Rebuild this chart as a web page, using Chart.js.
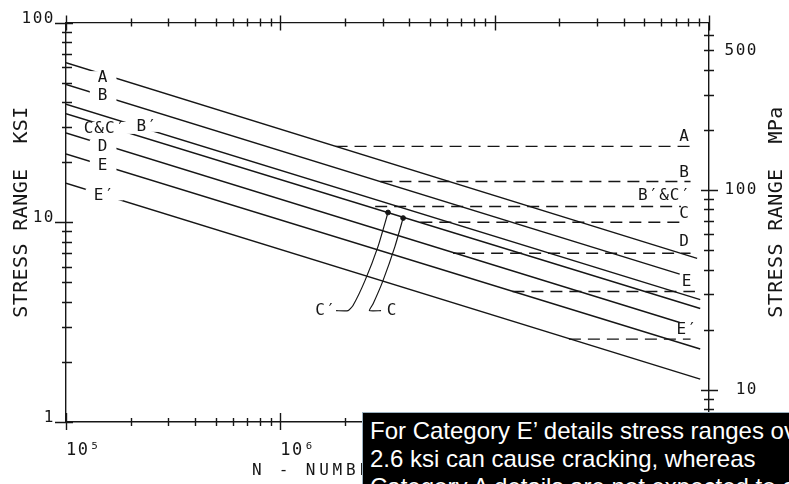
<!DOCTYPE html>
<html><head><meta charset="utf-8">
<script src="https://cdn.jsdelivr.net/npm/chart.js@4.4.1/dist/chart.umd.min.js"></script>
<style>
html,body{margin:0;padding:0;background:#fff;}
#wrap{position:relative;width:789px;height:484px;overflow:hidden;background:#fff;}
#c{position:absolute;left:0;top:0;}
#note{position:absolute;left:362px;top:412px;width:480px;height:110px;background:#000;border:1px solid #9db3c2;box-sizing:border-box;color:#fff;font-family:"Liberation Sans",Arial,sans-serif;font-size:24px;line-height:28px;padding:4px 0 0 7px;white-space:nowrap;}
</style></head>
<body><div id="wrap"><canvas id="c" width="789" height="484"></canvas>
<div id="note">For Category E’ details stress ranges over<br>2.6 ksi can cause cracking, whereas<br>Category A details are not expected to crack</div></div>
<script>
const INK = '#161616';
const MONO = '"DejaVu Sans Mono", "Liberation Mono", monospace';
const MPA_PER_KSI = 6.895;

// S-N lines (N cycles, stress range ksi)
const categories  = ['A','B','B′','C & C′','D','E','E′'];
const startCycles = [1e5, 1e5, 1e5, 1e5, 1e5, 1e5, 1e5];
const startStress = [63, 49, 39, 35, 28, 22, 15.7];
const endCycles   = [8.8e7, 7.3e7, 9.1e7, 9.1e7, 7.3e7, 9.1e7, 9.1e7];
const endStress   = [6.6, 5.5, 4.1, 3.7, 3.15, 2.32, 1.64];

// constant-amplitude thresholds (dashed)
const thresholdNames  = ['A','B','B′ & C′','C','D','E','E′'];
const thresholdStress = [24, 16, 12, 10, 7, 4.5, 2.6];
const thresholdStart  = [1.81e6, 2.93e6, 2.77e6, 4.5e6, 6.4e6, 1.21e7, 2.22e7];
const thresholdEnd    = [8.2e7, 8.2e7, 7.4e7, 7.4e7, 8.2e7, 8.6e7, 8.2e7];

// curve labels
const leftLabelText    = ['A','B','C&C′','B′','D','E','E′'];
const leftLabelCycles  = [1.49e5, 1.49e5, 1.52e5, 2.39e5, 1.49e5, 1.49e5, 1.51e5];
const leftLabelStress  = [53.3, 43.3, 29.7, 30.4, 24.2, 19.4, 13.8];
const rightLabelText   = ['A','B','B′&C′','C','D','E','E′'];
const rightLabelCycles = [7.7e7, 7.7e7, 6.2e7, 7.7e7, 7.7e7, 7.9e7, 7.9e7];
const rightLabelStress = [27.1, 17.9, 13.8, 11.1, 8.04, 5.09, 2.94];

// C / C' leader lines
const leaderCPrimeCycles = [3.18e6, 2.86e6, 2.48e6, 2.18e6, 2.07e6, 1.82e6];
const leaderCPrimeStress = [11.2, 7.6, 5.09, 3.82, 3.61, 3.61];
const leaderCCycles      = [3.74e6, 3.43e6, 3.01e6, 2.71e6, 2.60e6, 2.95e6];
const leaderCStress      = [10.5, 7.6, 5.09, 3.91, 3.61, 3.61];
const leaderLabelText    = ['C′','C'];
const leaderLabelCycles  = [1.63e6, 3.32e6];
const leaderLabelStress  = [3.65, 3.65];

// axes ticks
const xMajorTicks   = [1e5, 1e6, 1e7, 1e8];
const xMajorLabels  = ['10⁵','10⁶','10⁷','10⁸'];
const xMinorTicks   = [2e5,3e5,4e5,5e5,6e5,7e5,8e5,9e5,2e6,3e6,4e6,5e6,6e6,7e6,8e6,9e6,2e7,3e7,4e7,5e7,6e7,7e7,8e7,9e7];
const ksiMajorTicks  = [1, 10, 100];
const ksiMajorLabels = ['1','10','100'];
const ksiMinorTicks  = [2,3,4,5,6,7,8,9,20,30,40,50,60,70,80,90];
const mpaMajorTicks  = [10, 100];
const mpaLabelTicks  = [10, 100, 500];
const mpaLabels      = ['10','100','500'];
const mpaMinorTicks  = [7,8,9,20,30,40,50,60,70,80,90,200,300,400,500,600];

const xTitle  = 'N - NUMBER OF CYCLES';
const yTitle  = 'STRESS RANGE  KSI';
const y2Title = 'STRESS RANGE  MPa';

function lookup(vals, labels, v){
  const i = vals.findIndex(m => Math.abs(m - v) / m < 1e-6);
  return i >= 0 ? labels[i] : '';
}

const datasets = [];
categories.forEach((c, i) => datasets.push({
  label: 'Category ' + c,
  data: [{x: startCycles[i], y: startStress[i]}, {x: endCycles[i], y: endStress[i]}],
  borderColor: INK, borderWidth: 1.4, pointRadius: 0, showLine: true, fill: false
}));
thresholdNames.forEach((c, i) => datasets.push({
  label: 'Threshold ' + c,
  data: [{x: thresholdStart[i], y: thresholdStress[i]}, {x: thresholdEnd[i], y: thresholdStress[i]}],
  borderColor: INK, borderWidth: 1.4, borderDash: [12, 7], pointRadius: 0, showLine: true, fill: false
}));
datasets.push({
  label: 'leader C′',
  data: leaderCPrimeCycles.map((v, i) => ({x: v, y: leaderCPrimeStress[i]})),
  borderColor: INK, borderWidth: 1.2, pointRadius: 0, showLine: true, tension: 0.15, fill: false
});
datasets.push({
  label: 'leader C',
  data: leaderCCycles.map((v, i) => ({x: v, y: leaderCStress[i]})),
  borderColor: INK, borderWidth: 1.2, pointRadius: 0, showLine: true, tension: 0.15, fill: false
});
datasets.push({
  label: 'C points',
  data: [{x: leaderCPrimeCycles[0], y: leaderCPrimeStress[0]}, {x: leaderCCycles[0], y: leaderCStress[0]}],
  pointRadius: 2.4, pointBackgroundColor: INK, pointBorderColor: INK, showLine: false
});

const decor = {
  id: 'decor',
  beforeDraw(chart){ chart.ctx.letterSpacing = '1.5px'; },
  afterDatasetsDraw(chart){
    const ctx = chart.ctx, sx = chart.scales.x, sy = chart.scales.y;
    ctx.save();
    ctx.font = '16px ' + MONO;
    ctx.letterSpacing = '1px';
    ctx.textAlign = 'center';
    ctx.textBaseline = 'middle';
    leftLabelText.forEach((t, i) => {
      const px = sx.getPixelForValue(leftLabelCycles[i]);
      const py = sy.getPixelForValue(leftLabelStress[i]);
      const w = ctx.measureText(t).width;
      ctx.fillStyle = '#fff';
      ctx.fillRect(px - w/2 - 8, py - 6, w + 16, 12);
      ctx.fillStyle = INK;
      ctx.fillText(t, px, py + 1);
    });
    rightLabelText.forEach((t, i) => {
      ctx.fillStyle = INK;
      ctx.fillText(t, sx.getPixelForValue(rightLabelCycles[i]), sy.getPixelForValue(rightLabelStress[i]) + 1);
    });
    leaderLabelText.forEach((t, i) => {
      ctx.fillStyle = INK;
      ctx.fillText(t, sx.getPixelForValue(leaderLabelCycles[i]), sy.getPixelForValue(leaderLabelStress[i]) + 1);
    });
    ctx.restore();
  },
  afterDraw(chart){
    const ctx = chart.ctx, sx = chart.scales.x, sy = chart.scales.y, sy2 = chart.scales.y2;
    const a = chart.chartArea;
    ctx.save();
    ctx.letterSpacing = '0px';
    ctx.strokeStyle = INK;
    ctx.lineWidth = 1.4;
    ctx.beginPath();
    ctx.moveTo(a.left, a.top); ctx.lineTo(a.right, a.top);
    xMinorTicks.forEach(v => {
      const p = Math.round(sx.getPixelForValue(v)) + 0.5;
      ctx.moveTo(p, a.bottom - 4); ctx.lineTo(p, a.bottom + 4);
      ctx.moveTo(p, a.top - 4); ctx.lineTo(p, a.top + 4);
    });
    xMajorTicks.forEach(v => {
      const p = Math.round(sx.getPixelForValue(v)) + 0.5;
      ctx.moveTo(p, a.bottom - 9); ctx.lineTo(p, a.bottom + 8);
      ctx.moveTo(p, a.top - 7); ctx.lineTo(p, a.top + 8);
    });
    ksiMinorTicks.forEach(v => {
      const p = Math.round(sy.getPixelForValue(v)) + 0.5;
      ctx.moveTo(a.left - 4, p); ctx.lineTo(a.left + 6, p);
    });
    ksiMajorTicks.forEach(v => {
      const p = Math.round(sy.getPixelForValue(v)) + 0.5;
      ctx.moveTo(a.left - 11, p); ctx.lineTo(a.left + 7, p);
    });
    mpaMinorTicks.forEach(v => {
      const p = Math.round(sy2.getPixelForValue(v)) + 0.5;
      ctx.moveTo(a.right - 5, p); ctx.lineTo(a.right + 5, p);
    });
    mpaMajorTicks.forEach(v => {
      const p = Math.round(sy2.getPixelForValue(v)) + 0.5;
      ctx.moveTo(a.right - 8, p); ctx.lineTo(a.right + 9, p);
    });
    ctx.stroke();

    ctx.fillStyle = INK;
    ctx.font = '16px ' + MONO;
    ctx.letterSpacing = '3.8px';
    ctx.textAlign = 'left';
    ctx.textBaseline = 'alphabetic';
    ctx.fillText(xTitle, 252, 475);
    ctx.font = '20px ' + MONO;
    ctx.letterSpacing = '0.4px';
    ctx.textAlign = 'center';
    ctx.textBaseline = 'middle';
    ctx.save();
    ctx.translate(22, 212);
    ctx.rotate(-Math.PI / 2);
    ctx.fillText(yTitle, 0, 0);
    ctx.restore();
    ctx.save();
    ctx.translate(777, 212);
    ctx.rotate(-Math.PI / 2);
    ctx.fillText(y2Title, 0, 0);
    ctx.restore();
    ctx.restore();
    ctx.letterSpacing = '0px';
  }
};

new Chart(document.getElementById('c'), {
  type: 'scatter',
  data: { datasets },
  plugins: [decor],
  options: {
    responsive: false,
    animation: false,
    events: [],
    devicePixelRatio: 1,
    layout: { padding: { top: 20, left: 0, right: 31, bottom: 0 } },
    plugins: { legend: { display: false }, tooltip: { enabled: false } },
    scales: {
      x: {
        type: 'logarithmic', position: 'bottom', min: 1e5, max: 1e8,
        afterFit(s){ s.height = 62; },
        afterBuildTicks(s){ s.ticks = xMajorTicks.concat(xMinorTicks).sort((p, q) => p - q).map(v => ({value: v})); },
        grid: { display: false, drawTicks: false, tickLength: 0 },
        border: { display: true, color: INK, width: 1.4 },
        ticks: { autoSkip: false, maxRotation: 0, minRotation: 0, align: 'start', padding: 18,
                 color: INK, font: { family: MONO, size: 17 },
                 callback: v => lookup(xMajorTicks, xMajorLabels, v) }
      },
      y: {
        type: 'logarithmic', position: 'left', min: 1, max: 100,
        afterFit(s){ s.width = 66; },
        afterBuildTicks(s){ s.ticks = ksiMajorTicks.map(v => ({value: v})); },
        grid: { display: false, drawTicks: false, tickLength: 0 },
        border: { display: true, color: INK, width: 1.4 },
        ticks: { autoSkip: false, padding: 11, labelOffset: -4, color: INK, font: { family: MONO, size: 16 },
                 callback: v => lookup(ksiMajorTicks, ksiMajorLabels, v) }
      },
      y2: {
        type: 'logarithmic', position: 'right', min: 1 * MPA_PER_KSI, max: 100 * MPA_PER_KSI,
        afterFit(s){ s.width = 49; },
        afterBuildTicks(s){ s.ticks = mpaLabelTicks.map(v => ({value: v})); },
        grid: { display: false, drawTicks: false, tickLength: 0 },
        border: { display: true, color: INK, width: 1.4 },
        ticks: { autoSkip: false, padding: 13, crossAlign: 'far', color: INK, font: { family: MONO, size: 16 },
                 callback: v => lookup(mpaLabelTicks, mpaLabels, v) }
      }
    }
  }
});
</script>
</body></html>
